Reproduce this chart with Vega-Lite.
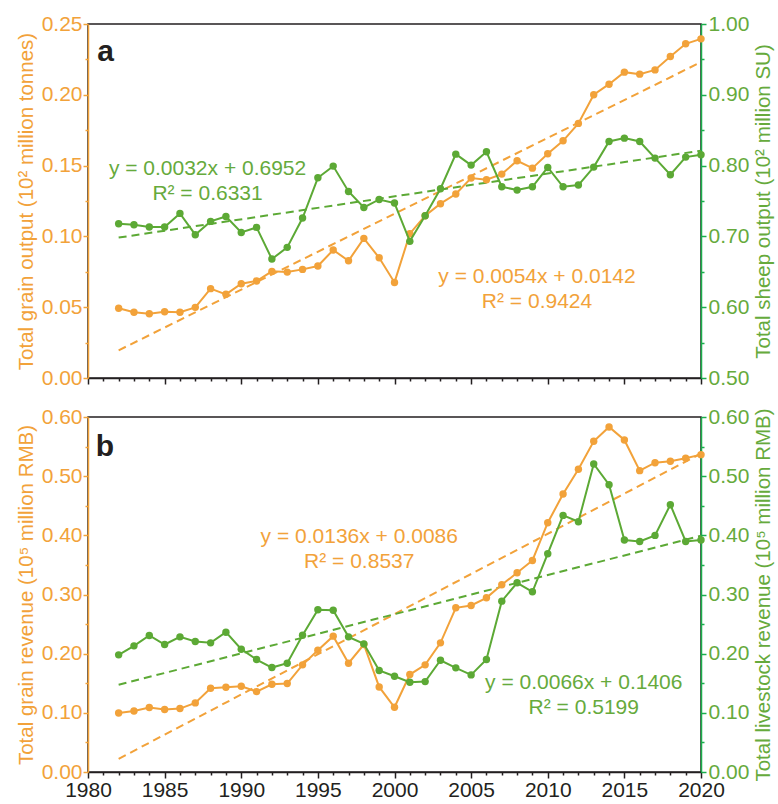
{
  "$schema": "https://vega.github.io/schema/vega-lite/v6.json",
  "padding": {"left": 15, "top": 12, "right": 0, "bottom": 5},
  "spacing": 16,
  "config": {
    "font": "Liberation Sans",
    "view": {"stroke": "#231f20", "strokeWidth": 1.5},
    "axis": {"grid": false, "labelFont": "Liberation Sans", "titleFont": "Liberation Sans", "titleFontWeight": "normal", "tickWidth": 1.5, "domainWidth": 1.5, "labelFlush": false},
    "text": {"font": "Liberation Sans"}
  },
  "datasets": {
    "d": [
      {"year": 1982, "grain": 0.0492, "sheep": 0.7179, "grev": 0.0998, "lrev": 0.1980},
      {"year": 1983, "grain": 0.0464, "sheep": 0.7165, "grev": 0.1032, "lrev": 0.2132},
      {"year": 1984, "grain": 0.0454, "sheep": 0.7132, "grev": 0.1089, "lrev": 0.2307},
      {"year": 1985, "grain": 0.0468, "sheep": 0.7132, "grev": 0.1055, "lrev": 0.2155},
      {"year": 1986, "grain": 0.0464, "sheep": 0.7325, "grev": 0.1072, "lrev": 0.2284},
      {"year": 1987, "grain": 0.0499, "sheep": 0.7024, "grev": 0.1168, "lrev": 0.2205},
      {"year": 1988, "grain": 0.0631, "sheep": 0.7212, "grev": 0.1416, "lrev": 0.2183},
      {"year": 1989, "grain": 0.0591, "sheep": 0.7282, "grev": 0.1433, "lrev": 0.2363},
      {"year": 1990, "grain": 0.0666, "sheep": 0.7056, "grev": 0.1450, "lrev": 0.2076},
      {"year": 1991, "grain": 0.0685, "sheep": 0.7127, "grev": 0.1359, "lrev": 0.1901},
      {"year": 1992, "grain": 0.0753, "sheep": 0.6680, "grev": 0.1483, "lrev": 0.1765},
      {"year": 1993, "grain": 0.0748, "sheep": 0.6845, "grev": 0.1495, "lrev": 0.1839},
      {"year": 1994, "grain": 0.0767, "sheep": 0.7259, "grev": 0.1811, "lrev": 0.2312},
      {"year": 1995, "grain": 0.0791, "sheep": 0.7828, "grev": 0.2059, "lrev": 0.2741},
      {"year": 1996, "grain": 0.0904, "sheep": 0.7993, "grev": 0.2296, "lrev": 0.2735},
      {"year": 1997, "grain": 0.0828, "sheep": 0.7635, "grev": 0.1839, "lrev": 0.2284},
      {"year": 1998, "grain": 0.0986, "sheep": 0.7409, "grev": 0.2155, "lrev": 0.2166},
      {"year": 1999, "grain": 0.0849, "sheep": 0.7522, "grev": 0.1438, "lrev": 0.1715},
      {"year": 2000, "grain": 0.0675, "sheep": 0.7471, "grev": 0.1094, "lrev": 0.1619},
      {"year": 2001, "grain": 0.1019, "sheep": 0.6930, "grev": 0.1647, "lrev": 0.1517},
      {"year": 2002, "grain": 0.1146, "sheep": 0.7292, "grev": 0.1811, "lrev": 0.1528},
      {"year": 2003, "grain": 0.1231, "sheep": 0.7673, "grev": 0.2183, "lrev": 0.1889},
      {"year": 2004, "grain": 0.1299, "sheep": 0.8162, "grev": 0.2775, "lrev": 0.1760},
      {"year": 2005, "grain": 0.1412, "sheep": 0.8007, "grev": 0.2814, "lrev": 0.1641},
      {"year": 2006, "grain": 0.1400, "sheep": 0.8195, "grev": 0.2944, "lrev": 0.1901},
      {"year": 2007, "grain": 0.1440, "sheep": 0.7701, "grev": 0.3164, "lrev": 0.2888},
      {"year": 2008, "grain": 0.1534, "sheep": 0.7654, "grev": 0.3367, "lrev": 0.3198},
      {"year": 2009, "grain": 0.1482, "sheep": 0.7701, "grev": 0.3576, "lrev": 0.3046},
      {"year": 2010, "grain": 0.1584, "sheep": 0.7974, "grev": 0.4213, "lrev": 0.3689},
      {"year": 2011, "grain": 0.1675, "sheep": 0.7701, "grev": 0.4698, "lrev": 0.4337},
      {"year": 2012, "grain": 0.1798, "sheep": 0.7725, "grev": 0.5116, "lrev": 0.4230},
      {"year": 2013, "grain": 0.2000, "sheep": 0.7979, "grev": 0.5589, "lrev": 0.5206},
      {"year": 2014, "grain": 0.2075, "sheep": 0.8341, "grev": 0.5832, "lrev": 0.4856},
      {"year": 2015, "grain": 0.2160, "sheep": 0.8388, "grev": 0.5612, "lrev": 0.3920},
      {"year": 2016, "grain": 0.2146, "sheep": 0.8341, "grev": 0.5093, "lrev": 0.3897},
      {"year": 2017, "grain": 0.2176, "sheep": 0.8106, "grev": 0.5228, "lrev": 0.3999},
      {"year": 2018, "grain": 0.2271, "sheep": 0.7871, "grev": 0.5251, "lrev": 0.4518},
      {"year": 2019, "grain": 0.2360, "sheep": 0.8120, "grev": 0.5302, "lrev": 0.3897},
      {"year": 2020, "grain": 0.2395, "sheep": 0.8153, "grev": 0.5364, "lrev": 0.3920}
    ]
  },
  "vconcat": [
    {
      "width": 613,
      "height": 354,
      "data": {"name": "d"},
      "resolve": {"scale": {"y": "independent"}, "axis": {"x": "independent", "y": "independent"}},
      "layer": [
        {
          "transform": [{"regression": "grain", "on": "year", "extent": [1982, 2020]}],
          "mark": {"type": "line", "color": "#F2A23A", "strokeWidth": 2, "strokeDash": [8, 5]},
          "encoding": {
            "x": {"field": "year", "type": "quantitative", "scale": {"domain": [1980, 2020], "nice": false, "zero": false},
              "axis": {"orient": "bottom", "values": [1981,1982,1983,1984,1986,1987,1988,1989,1991,1992,1993,1994,1996,1997,1998,1999,2001,2002,2003,2004,2006,2007,2008,2009,2011,2012,2013,2014,2016,2017,2018,2019], "tickSize": 3, "labels": false, "domain": false, "title": null, "tickColor": "#231f20"}},
            "y": {"field": "grain", "type": "quantitative", "scale": {"domain": [0, 0.25], "nice": false, "zero": false},
              "axis": {"orient": "left", "values": [0.025, 0.075, 0.125, 0.175, 0.225], "tickSize": 3, "labels": false, "domain": false, "title": null, "tickColor": "#F2A23A"}}
          }
        },
        {
          "transform": [{"regression": "sheep", "on": "year", "extent": [1982, 2020]}],
          "mark": {"type": "line", "color": "#5CA935", "strokeWidth": 2, "strokeDash": [8, 5]},
          "encoding": {
            "x": {"field": "year", "type": "quantitative", "scale": {"domain": [1980, 2020], "nice": false, "zero": false}, "axis": null},
            "y": {"field": "sheep", "type": "quantitative", "scale": {"domain": [0.5, 1.0], "nice": false, "zero": false},
              "axis": {"orient": "right", "values": [0.55, 0.65, 0.75, 0.85, 0.95], "tickSize": 3, "labels": false, "domain": false, "title": null, "tickColor": "#1BAE4C"}}
          }
        },
        {
          "mark": {"type": "line", "color": "#F2A23A", "strokeWidth": 2, "point": {"filled": true, "size": 55, "color": "#F2A23A"}},
          "encoding": {
            "x": {"field": "year", "type": "quantitative", "scale": {"domain": [1980, 2020], "nice": false, "zero": false},
              "axis": {"orient": "bottom", "values": [1980, 1985, 1990, 1995, 2000, 2005, 2010, 2015, 2020], "tickSize": 6, "labels": false, "domain": true, "domainColor": "#231f20", "tickColor": "#231f20", "title": null}},
            "y": {"field": "grain", "type": "quantitative", "scale": {"domain": [0, 0.25], "nice": false, "zero": false},
              "axis": {"orient": "left", "values": [0, 0.05, 0.1, 0.15, 0.2, 0.25], "format": ".2f", "tickSize": 5, "tickColor": "#F2A23A", "domainColor": "#F2A23A", "labelColor": "#F2A23A", "labelFontSize": 21, "labelPadding": 1, "title": "Total grain output (10² million tonnes)", "titleColor": "#F2A23A", "titleFontSize": 20.5, "titlePadding": 5}}
          }
        },
        {
          "mark": {"type": "line", "color": "#5CA935", "strokeWidth": 2, "point": {"filled": true, "size": 55, "color": "#5CA935"}},
          "encoding": {
            "x": {"field": "year", "type": "quantitative", "scale": {"domain": [1980, 2020], "nice": false, "zero": false}, "axis": null},
            "y": {"field": "sheep", "type": "quantitative", "scale": {"domain": [0.5, 1.0], "nice": false, "zero": false},
              "axis": {"orient": "right", "values": [0.5, 0.6, 0.7, 0.8, 0.9, 1.0], "format": ".2f", "tickSize": 5, "tickColor": "#1BAE4C", "domainColor": "#1BAE4C", "labelColor": "#66AA3C", "labelFontSize": 21, "labelPadding": 2, "title": "Total sheep output (10² million SU)", "titleColor": "#66AA3C", "titleFontSize": 20.5, "titlePadding": 5, "titleAngle": 270, "titleBaseline": "top"}}
          }
        },
        {
          "data": {"values": [{}]},
          "mark": {"type": "text", "text": ["y = 0.0032x + 0.6952", "R² = 0.6331"], "align": "center", "baseline": "alphabetic", "fontSize": 21, "lineHeight": 25, "color": "#66AA3C"},
          "encoding": {
            "x": {"datum": 1987.8, "type": "quantitative", "scale": {"domain": [1980, 2020], "nice": false, "zero": false}, "axis": null},
            "y": {"datum": 0.1434, "type": "quantitative", "scale": {"domain": [0, 0.25], "nice": false, "zero": false}, "axis": null}
          }
        },
        {
          "data": {"values": [{}]},
          "mark": {"type": "text", "text": ["y = 0.0054x + 0.0142", "R² = 0.9424"], "align": "center", "baseline": "alphabetic", "fontSize": 21, "lineHeight": 25, "color": "#F2A23A"},
          "encoding": {
            "x": {"datum": 2009.3, "type": "quantitative", "scale": {"domain": [1980, 2020], "nice": false, "zero": false}, "axis": null},
            "y": {"datum": 0.0673, "type": "quantitative", "scale": {"domain": [0, 0.25], "nice": false, "zero": false}, "axis": null}
          }
        },
        {
          "data": {"values": [{}]},
          "mark": {"type": "text", "text": "a", "align": "left", "baseline": "alphabetic", "fontSize": 30, "fontWeight": "bold", "color": "#231f20"},
          "encoding": {
            "x": {"datum": 1980.6, "type": "quantitative", "scale": {"domain": [1980, 2020], "nice": false, "zero": false}, "axis": null},
            "y": {"datum": 0.224, "type": "quantitative", "scale": {"domain": [0, 0.25], "nice": false, "zero": false}, "axis": null}
          }
        }
      ]
    },
    {
      "width": 613,
      "height": 355,
      "data": {"name": "d"},
      "resolve": {"scale": {"y": "independent"}, "axis": {"x": "independent", "y": "independent"}},
      "layer": [
        {
          "transform": [{"regression": "grev", "on": "year", "extent": [1982, 2020]}],
          "mark": {"type": "line", "color": "#F2A23A", "strokeWidth": 2, "strokeDash": [8, 5]},
          "encoding": {
            "x": {"field": "year", "type": "quantitative", "scale": {"domain": [1980, 2020], "nice": false, "zero": false},
              "axis": {"orient": "bottom", "values": [1981,1982,1983,1984,1986,1987,1988,1989,1991,1992,1993,1994,1996,1997,1998,1999,2001,2002,2003,2004,2006,2007,2008,2009,2011,2012,2013,2014,2016,2017,2018,2019], "tickSize": 3, "labels": false, "domain": false, "title": null, "tickColor": "#231f20"}},
            "y": {"field": "grev", "type": "quantitative", "scale": {"domain": [0, 0.6], "nice": false, "zero": false},
              "axis": {"orient": "left", "values": [0.05, 0.15, 0.25, 0.35, 0.45, 0.55], "tickSize": 3, "labels": false, "domain": false, "title": null, "tickColor": "#F2A23A"}}
          }
        },
        {
          "transform": [{"regression": "lrev", "on": "year", "extent": [1982, 2020]}],
          "mark": {"type": "line", "color": "#5CA935", "strokeWidth": 2, "strokeDash": [8, 5]},
          "encoding": {
            "x": {"field": "year", "type": "quantitative", "scale": {"domain": [1980, 2020], "nice": false, "zero": false}, "axis": null},
            "y": {"field": "lrev", "type": "quantitative", "scale": {"domain": [0, 0.6], "nice": false, "zero": false},
              "axis": {"orient": "right", "values": [0.05, 0.15, 0.25, 0.35, 0.45, 0.55], "tickSize": 3, "labels": false, "domain": false, "title": null, "tickColor": "#1BAE4C"}}
          }
        },
        {
          "mark": {"type": "line", "color": "#F2A23A", "strokeWidth": 2, "point": {"filled": true, "size": 55, "color": "#F2A23A"}},
          "encoding": {
            "x": {"field": "year", "type": "quantitative", "scale": {"domain": [1980, 2020], "nice": false, "zero": false},
              "axis": {"orient": "bottom", "values": [1980, 1985, 1990, 1995, 2000, 2005, 2010, 2015, 2020], "format": "d", "tickSize": 6, "labels": true, "labelColor": "#231f20", "labelFontSize": 21, "labelPadding": 1, "domain": true, "domainColor": "#231f20", "tickColor": "#231f20", "title": null}},
            "y": {"field": "grev", "type": "quantitative", "scale": {"domain": [0, 0.6], "nice": false, "zero": false},
              "axis": {"orient": "left", "values": [0, 0.1, 0.2, 0.3, 0.4, 0.5, 0.6], "format": ".2f", "tickSize": 5, "tickColor": "#F2A23A", "domainColor": "#F2A23A", "labelColor": "#F2A23A", "labelFontSize": 21, "labelPadding": 1, "title": "Total grain revenue (10⁵ million RMB)", "titleColor": "#F2A23A", "titleFontSize": 20.5, "titlePadding": 5}}
          }
        },
        {
          "mark": {"type": "line", "color": "#5CA935", "strokeWidth": 2, "point": {"filled": true, "size": 55, "color": "#5CA935"}},
          "encoding": {
            "x": {"field": "year", "type": "quantitative", "scale": {"domain": [1980, 2020], "nice": false, "zero": false}, "axis": null},
            "y": {"field": "lrev", "type": "quantitative", "scale": {"domain": [0, 0.6], "nice": false, "zero": false},
              "axis": {"orient": "right", "values": [0, 0.1, 0.2, 0.3, 0.4, 0.5, 0.6], "format": ".2f", "tickSize": 5, "tickColor": "#1BAE4C", "domainColor": "#1BAE4C", "labelColor": "#66AA3C", "labelFontSize": 21, "labelPadding": 2, "title": "Total livestock revenue (10⁵ million RMB)", "titleColor": "#66AA3C", "titleFontSize": 20.5, "titlePadding": 5, "titleAngle": 270, "titleBaseline": "top"}}
          }
        },
        {
          "data": {"values": [{}]},
          "mark": {"type": "text", "text": ["y = 0.0136x + 0.0086", "R² = 0.8537"], "align": "center", "baseline": "alphabetic", "fontSize": 21, "lineHeight": 25, "color": "#F2A23A"},
          "encoding": {
            "x": {"datum": 1997.7, "type": "quantitative", "scale": {"domain": [1980, 2020], "nice": false, "zero": false}, "axis": null},
            "y": {"datum": 0.3875, "type": "quantitative", "scale": {"domain": [0, 0.6], "nice": false, "zero": false}, "axis": null}
          }
        },
        {
          "data": {"values": [{}]},
          "mark": {"type": "text", "text": ["y = 0.0066x + 0.1406", "R² = 0.5199"], "align": "center", "baseline": "alphabetic", "fontSize": 21, "lineHeight": 25, "color": "#66AA3C"},
          "encoding": {
            "x": {"datum": 2012.35, "type": "quantitative", "scale": {"domain": [1980, 2020], "nice": false, "zero": false}, "axis": null},
            "y": {"datum": 0.1398, "type": "quantitative", "scale": {"domain": [0, 0.6], "nice": false, "zero": false}, "axis": null}
          }
        },
        {
          "data": {"values": [{}]},
          "mark": {"type": "text", "text": "b", "align": "left", "baseline": "alphabetic", "fontSize": 30, "fontWeight": "bold", "color": "#231f20"},
          "encoding": {
            "x": {"datum": 1980.5, "type": "quantitative", "scale": {"domain": [1980, 2020], "nice": false, "zero": false}, "axis": null},
            "y": {"datum": 0.534, "type": "quantitative", "scale": {"domain": [0, 0.6], "nice": false, "zero": false}, "axis": null}
          }
        }
      ]
    }
  ]
}
